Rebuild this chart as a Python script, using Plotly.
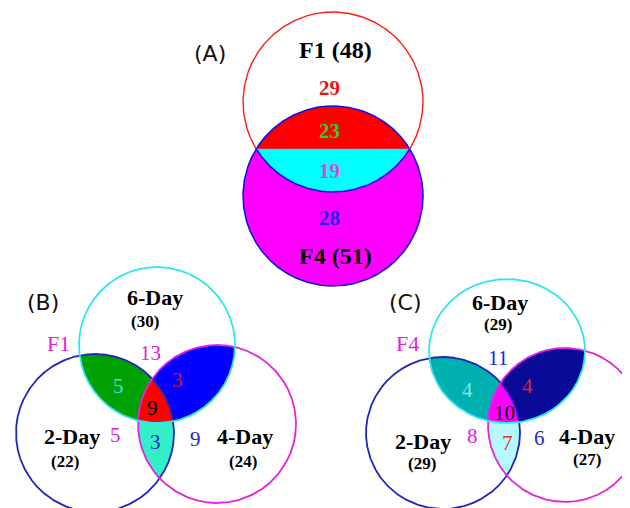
import numpy as np
import plotly.graph_objects as go

# ---------------- data ----------------
panel_names = ["(A)", "(B)", "(C)"]

a_set_names = ["F1", "F4"]
a_set_totals = [48, 51]
# F1-only, red band, cyan band, F4-only
a_counts = [29, 23, 19, 28]

b_group = "F1"
c_group = "F4"
day_sets = ["6-Day", "2-Day", "4-Day"]
b_totals = [30, 22, 24]
c_totals = [29, 29, 27]
# order: only6, only2, only4, 6&2, 6&4, 2&4, all three
b_counts = [13, 5, 9, 5, 3, 3, 9]
c_counts = [11, 8, 6, 4, 4, 7, 10]

# ---------------- layout / geometry (page pixels, y down) ----------------
W, H = 630, 508
PAGE_MARGIN = 8   # browser default body margin
# (cx, cy, rx, ry)
GEOM_A = [(333, 102, 90, 90), (333, 196, 90, 90)]                        # F1, F4
GEOM_B = [(157, 345, 78, 78), (95, 433, 79, 79), (217, 424, 79, 79)]    # 6-Day, 2-Day, 4-Day
GEOM_C = [(507, 351, 78, 72), (443, 433, 77, 76), (565, 425, 77, 77)]

SERIF = "Liberation Serif, Times New Roman, serif"
SANS = "DejaVu Sans, sans-serif"
N_SAMPLES = 2880


def ell_pts(c, n=N_SAMPLES):
    t = np.linspace(0, 2 * np.pi, n)
    return c[0] + c[2] * np.cos(t), c[1] + c[3] * np.sin(t)


def inside(x, y, c, eps=1e-9):
    return ((x - c[0]) / c[2]) ** 2 + ((y - c[1]) / c[3]) ** 2 <= 1 + eps


def sort_convex(P):
    P = np.asarray(P)
    cx, cy = P.mean(0)
    order = np.argsort(np.arctan2(P[:, 1] - cy, P[:, 0] - cx))
    P = P[order]
    return np.vstack([P, P[:1]])


def intersection_poly(shapes):
    pts = []
    for i, c in enumerate(shapes):
        x, y = ell_pts(c)
        m = np.ones_like(x, bool)
        for j, d in enumerate(shapes):
            if j != i:
                m &= inside(x, y, d)
        pts.append(np.c_[x[m], y[m]])
    return sort_convex(np.vstack(pts))


def segment_poly(arc_shape, within):
    x, y = ell_pts(arc_shape)
    m = inside(x, y, within)
    return sort_convex(np.c_[x[m], y[m]])


fig = go.Figure()


def add_fill(P, color):
    fig.add_trace(go.Scatter(x=P[:, 0], y=P[:, 1], mode="lines", fill="toself",
                             fillcolor=color, line=dict(width=0, color=color),
                             hoverinfo="skip", showlegend=False))


def add_line(x, y, color, width=1.6):
    fig.add_trace(go.Scatter(x=x, y=y, mode="lines", line=dict(color=color, width=width),
                             hoverinfo="skip", showlegend=False, connectgaps=False))


# ---------------- panel A ----------------
topc, botc = GEOM_A
bx, by = ell_pts(botc)
add_fill(np.c_[bx, by], "#FF00FF")
add_fill(segment_poly(botc, topc), "#FF0000")
add_fill(segment_poly(topc, botc), "#00FFFF")
tx, ty = ell_pts(topc)
m_in = inside(tx, ty, botc)
add_line(np.where(~m_in, tx, np.nan), np.where(~m_in, ty, np.nan), "#FF1A1A", 1.4)
add_line(np.where(m_in, tx, np.nan), np.where(m_in, ty, np.nan), "#1010E0", 1.6)
add_line(bx, by, "#1010E0", 1.6)
chord = segment_poly(topc, botc)
ci = [np.argmin(chord[:, 0]), np.argmax(chord[:, 0])]
add_line(chord[ci, 0], chord[ci, 1], "#9090FF", 0.6)


# ---------------- panels B and C ----------------
def venn3(geom, fills, cols):
    c6, c2, c4 = geom
    add_fill(intersection_poly([c6, c2]), fills[0])
    add_fill(intersection_poly([c6, c4]), fills[1])
    add_fill(intersection_poly([c2, c4]), fills[2])
    add_fill(intersection_poly([c6, c2, c4]), fills[3])
    for c, col in zip([c2, c4, c6], [cols[1], cols[2], cols[0]]):
        x, y = ell_pts(c)
        add_line(x, y, col, 1.8)


venn3(GEOM_B, ["#00A000", "#0000FF", "#33EFC8", "#FF0000"],
      ["#30E4F4", "#2424B8", "#E024E0"])
venn3(GEOM_C, ["#00AFB0", "#0A0A98", "#B4FAFA", "#FF00FF"],
      ["#30E4F4", "#2424B8", "#E024E0"])

# ---------------- text ----------------
ann = []


def txt(x, y, s, size, color="black", family=SERIF):
    ann.append(dict(x=x, y=y, xref="x", yref="y", text=s, showarrow=False,
                    xanchor="center", yanchor="middle",
                    font=dict(family=family, size=size, color=color)))


# panel A
txt(210, 53, panel_names[0], 22, "#111111", SANS)
txt(335, 50, f"<b>{a_set_names[0]} ({a_set_totals[0]})</b>", 24)
txt(329, 88, f"<b>{a_counts[0]}</b>", 21, "#EE1111")
txt(329, 131, f"<b>{a_counts[1]}</b>", 21, "#33CC22")
txt(329, 171, f"<b>{a_counts[2]}</b>", 21, "#D84CD8")
txt(329, 218, f"<b>{a_counts[3]}</b>", 21, "#2222EE")
txt(335, 256, f"<b>{a_set_names[1]} ({a_set_totals[1]})</b>", 24)


def venn3_text(totals, counts, group, pname, pos, ccolors):
    (px, py) = pos["panel"]
    txt(px, py, pname, 22, "#111111", SANS)
    txt(pos["group"][0], pos["group"][1], group, 22, "#E020E0")
    for k, name in enumerate(day_sets):
        nx, ny = pos["names"][k]
        txt(nx, ny, f"<b>{name}</b>", 22)
        txt(pos["totals"][k][0], pos["totals"][k][1], f"<b>({totals[k]})</b>", 17)
    for k, v in enumerate(counts):
        cx, cy = pos["counts"][k]
        txt(cx, cy, str(v), 21, ccolors[k])


POS_B = dict(panel=(43, 302), group=(58, 343),
             names=[(155, 297), (72, 436), (245, 436)],
             totals=[(145, 321), (65, 461), (243, 461)],
             counts=[(150, 353), (115, 435), (195, 439), (118, 386),
                     (177, 380), (155, 442), (152, 408)])
POS_C = dict(panel=(405, 302), group=(407, 343),
             names=[(500, 302), (423, 441), (587, 436)],
             totals=[(498, 324), (422, 463), (587, 459)],
             counts=[(498, 358), (472, 436), (539, 438), (467, 390),
                     (527, 386), (507, 443), (504, 413)])

venn3_text(b_totals, b_counts, b_group, panel_names[1], POS_B,
           ["#E020E0", "#E020E0", "#2424C8", "#40E0E0", "#D01030", "#2030C0", "#000000"])
venn3_text(c_totals, c_counts, c_group, panel_names[2], POS_C,
           ["#2424D0", "#E020E0", "#2424D0", "#80E4E4", "#E0203A", "#E03030", "#000000"])

fig.update_layout(
    width=W - PAGE_MARGIN, height=H - PAGE_MARGIN, margin=dict(l=0, r=0, t=0, b=0),
    paper_bgcolor="white", plot_bgcolor="white",
    xaxis=dict(range=[PAGE_MARGIN, W], visible=False, fixedrange=True),
    yaxis=dict(range=[H, PAGE_MARGIN], visible=False, fixedrange=True),
    annotations=ann, showlegend=False,
)

fig.write_html("out.html")
